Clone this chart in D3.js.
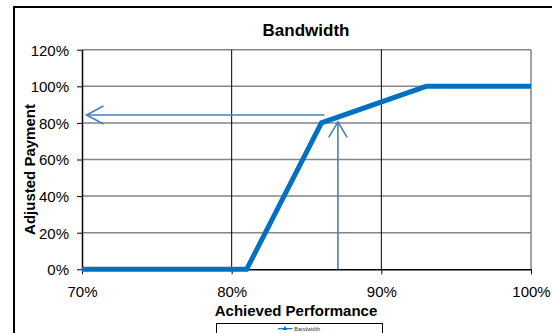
<!DOCTYPE html>
<html>
<head>
<meta charset="utf-8">
<script src="https://cdn.jsdelivr.net/npm/d3@7"></script>
<style>
  html, body { margin: 0; padding: 0; background: #fff; }
  svg { display: block; font-family: "Liberation Sans", Arial, sans-serif; }
</style>
</head>
<body>
<svg id="chart" width="552" height="333"></svg>
<script>
// Payment curve: achieved performance -> adjusted payment
const performance = [0.70, 0.81, 0.86, 0.93, 1.00];
const payment     = [0.00, 0.00, 0.80, 1.00, 1.00];

// Axis ticks
const xTicks = [0.70, 0.80, 0.90, 1.00];
const yTicks = [0, 0.2, 0.4, 0.6, 0.8, 1.0, 1.2];

// Annotation arrows (start point -> tip), in data units
const readoutArrow = [[0.862, 0.843], [0.703, 0.843]];
const pointerArrow = [[0.871, 0.0], [0.871, 0.806]];

const seriesName = "Bandwidth";

const svg = d3.select("#chart");
const plotLeft = 82, plotRight = 531, plotTop = 49.7, plotBottom = 269.3;

const x = d3.scaleLinear().domain([0.70, 1.00]).range([plotLeft, plotRight]);
const y = d3.scaleLinear().domain([0, 1.2]).range([plotBottom, plotTop]);
const pct = d3.format(".0%");

// Outer chart frame
svg.append("rect")
  .attr("x", 14).attr("y", 7)
  .attr("width", 600).attr("height", 400)
  .attr("fill", "none").attr("stroke", "#000").attr("stroke-width", 2);

// Title
svg.append("text")
  .attr("x", 306).attr("y", 36)
  .attr("text-anchor", "middle")
  .attr("font-size", 17).attr("font-weight", "bold")
  .text(seriesName);

// Horizontal gridlines
svg.append("g").selectAll("line")
  .data(yTicks.filter(d => d > 0))
  .join("line")
  .attr("x1", plotLeft).attr("x2", plotRight)
  .attr("y1", d => y(d)).attr("y2", d => y(d))
  .attr("stroke", "#858585").attr("stroke-width", 1.5);

// Vertical gridlines
svg.append("g").selectAll("line")
  .data(xTicks.filter(d => d > 0.70 && d < 1.00))
  .join("line")
  .attr("x1", d => x(d)).attr("x2", d => x(d))
  .attr("y1", plotTop).attr("y2", plotBottom)
  .attr("stroke", "#000").attr("stroke-width", 1);

// Right edge of plot area
svg.append("line")
  .attr("x1", x(1.0)).attr("x2", x(1.0))
  .attr("y1", plotTop).attr("y2", plotBottom)
  .attr("stroke", "#858585").attr("stroke-width", 1.5);

// Y axis
const yAxis = svg.append("g")
  .attr("transform", `translate(${plotLeft},0)`)
  .call(d3.axisLeft(y).tickValues(yTicks).tickFormat(pct).tickSize(5).tickPadding(8).tickSizeOuter(0));
yAxis.select(".domain").attr("stroke", "#000").attr("stroke-width", 1.5);
yAxis.selectAll(".tick line").attr("stroke", "#000");
yAxis.selectAll("text")
  .attr("font-size", 15).attr("fill", "#000")
  .attr("font-family", "Liberation Sans, Arial, sans-serif")
  .attr("dy", "0.36em");

// X axis
const xAxis = svg.append("g")
  .attr("transform", `translate(0,${plotBottom})`)
  .call(d3.axisBottom(x).tickValues(xTicks).tickFormat(pct).tickSize(5).tickSizeOuter(0));
xAxis.select(".domain").attr("stroke", "#000").attr("stroke-width", 1.5);
xAxis.selectAll(".tick line").attr("stroke", "#000");
xAxis.selectAll("text")
  .attr("font-size", 15).attr("fill", "#000")
  .attr("font-family", "Liberation Sans, Arial, sans-serif")
  .attr("y", 27.5).attr("dy", 0);

// Axis titles
svg.append("text")
  .attr("x", 296).attr("y", 316)
  .attr("text-anchor", "middle")
  .attr("font-size", 15).attr("font-weight", "bold")
  .text("Achieved Performance");

svg.append("text")
  .attr("transform", "translate(35,169.5) rotate(-90)")
  .attr("text-anchor", "middle")
  .attr("font-size", 15).attr("font-weight", "bold")
  .text("Adjusted Payment");

// Payment curve
const pts = performance.map((p, i) => [p, payment[i]]);
svg.append("path")
  .datum(pts)
  .attr("d", d3.line().x(d => x(d[0])).y(d => y(d[1])))
  .attr("fill", "none")
  .attr("stroke", "#0070c0")
  .attr("stroke-width", 5)
  .attr("stroke-linejoin", "miter");

// Arrows with open chevron heads
function arrow(seg, headLen, headHalf) {
  const [a, b] = seg.map(d => [x(d[0]), y(d[1])]);
  const g = svg.append("g")
    .attr("stroke", "#4a7ebb").attr("stroke-width", 1.6).attr("fill", "none");
  g.append("line").attr("x1", a[0]).attr("y1", a[1]).attr("x2", b[0]).attr("y2", b[1]);
  const ang = Math.atan2(b[1] - a[1], b[0] - a[0]);
  const ux = Math.cos(ang), uy = Math.sin(ang);
  const px = -uy, py = ux;
  const bx = b[0] - ux * headLen, by = b[1] - uy * headLen;
  g.append("path")
    .attr("d", `M${bx + px * headHalf},${by + py * headHalf}L${b[0]},${b[1]}L${bx - px * headHalf},${by - py * headHalf}`);
}
arrow(readoutArrow, 17, 9);
arrow(pointerArrow, 15.5, 9.2);

// Legend
const lg = svg.append("g");
lg.append("rect")
  .attr("x", 216.5).attr("y", 323.5)
  .attr("width", 166).attr("height", 30)
  .attr("fill", "#fff").attr("stroke", "#000").attr("stroke-width", 1);
lg.append("line")
  .attr("x1", 278).attr("x2", 292.5).attr("y1", 328.7).attr("y2", 328.7)
  .attr("stroke", "#0070c0").attr("stroke-width", 1.2);
lg.append("path")
  .attr("d", d3.symbol(d3.symbolTriangle, 10)())
  .attr("transform", "translate(285,328.7)")
  .attr("fill", "#0070c0");
lg.append("text")
  .attr("x", 294.3).attr("y", 330.6)
  .attr("font-size", 5.5).attr("fill", "#333")
  .text(seriesName);
</script>
</body>
</html>
